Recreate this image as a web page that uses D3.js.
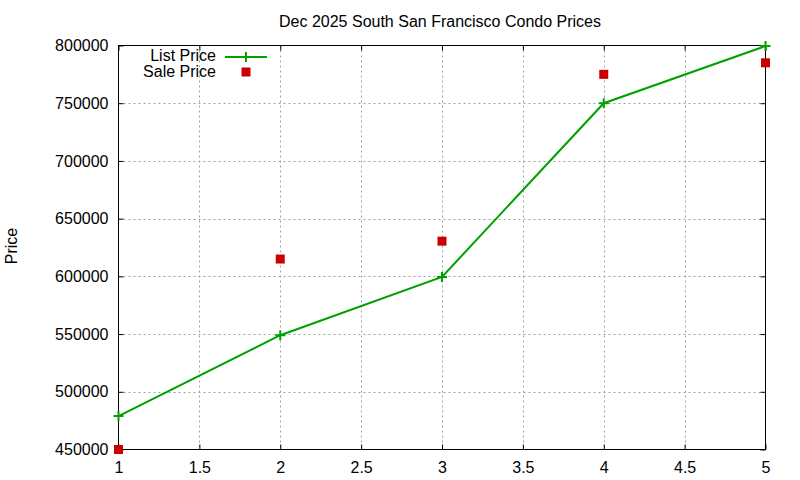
<!DOCTYPE html>
<html lang="en">
	<head>
		<meta charset="UTF-8" />
		<title>Dec 2025 South San Francisco Condo Prices</title>
		<style>
			body { margin: 0; background: #fff; }
			text { font-family: 'Liberation Sans', Arial, sans-serif; }
		</style>
	</head>
	<body>
		<svg id="svg" width="800" height="480"></svg>

		<script src="https://d3js.org/d3.v7.min.js"></script>
		<script>
			const xs = [1, 2, 3, 4, 5];
			const listPrice = [479000, 549000, 599500, 750000, 799500];
			const salePrice = [450000, 615000, 630500, 775000, 785000];
			const xTicks = [1, 1.5, 2, 2.5, 3, 3.5, 4, 4.5, 5];
			const yTicks = [450000, 500000, 550000, 600000, 650000, 700000, 750000, 800000];

			const pLeft = 118.5, pRight = 765.5, pTop = 45.5, pBottom = 449.5;
			const green = '#00a000', red = '#cc0000';

			const svg = d3.select('#svg');
			const x = d3.scaleLinear().domain([1, 5]).range([pLeft, pRight]);
			const y = d3.scaleLinear().domain([450000, 800000]).range([pBottom, pTop]);

			// grid
			const grid = svg.append('g')
				.attr('stroke', '#a0a0a0')
				.attr('stroke-dasharray', '2,3')
				.attr('stroke-width', 1);
			grid.selectAll('.gx').data(xTicks.slice(1, -1)).enter().append('line')
				.attr('x1', (d) => Math.round(x(d)) + 0.5).attr('x2', (d) => Math.round(x(d)) + 0.5)
				.attr('y1', pTop).attr('y2', pBottom);
			grid.selectAll('.gy').data(yTicks.slice(1, -1)).enter().append('line')
				.attr('y1', (d) => Math.round(y(d)) + 0.5).attr('y2', (d) => Math.round(y(d)) + 0.5)
				.attr('x1', pLeft).attr('x2', pRight);

			// axes, ticks drawn inward and mirrored
			const fmt = d3.format('d');
			const axL = d3.axisLeft(y).tickValues(yTicks).tickSizeInner(-5).tickSizeOuter(0).tickPadding(10).tickFormat(fmt);
			const axR = d3.axisRight(y).tickValues(yTicks).tickSizeInner(-5).tickSizeOuter(0).tickFormat('');
			const axB = d3.axisBottom(x).tickValues(xTicks).tickSizeInner(-5).tickSizeOuter(0).tickPadding(12).tickFormat(d3.format('~g'));
			const axT = d3.axisTop(x).tickValues(xTicks).tickSizeInner(-5).tickSizeOuter(0).tickFormat('');

			function style(g) {
				g.select('.domain').remove();
				g.selectAll('line').attr('stroke', '#000');
				g.selectAll('text').attr('fill', '#000').style('font-size', '16px');
			}
			svg.append('g').attr('transform', `translate(${pLeft},0)`).call(axL).call(style);
			svg.append('g').attr('transform', `translate(${pRight},0)`).call(axR).call(style);
			svg.append('g').attr('transform', `translate(0,${pBottom})`).call(axB).call(style);
			svg.append('g').attr('transform', `translate(0,${pTop})`).call(axT).call(style);

			svg.append('rect')
				.attr('x', pLeft).attr('y', pTop)
				.attr('width', pRight - pLeft).attr('height', pBottom - pTop)
				.attr('fill', 'none').attr('stroke', '#000').attr('stroke-width', 1);

			// list price line
			const pts = xs.map((d, i) => [x(d), y(listPrice[i])]);
			svg.append('path')
				.attr('d', d3.line()(pts))
				.attr('fill', 'none')
				.attr('stroke', green)
				.attr('stroke-width', 2);
			svg.selectAll('.lp').data(pts).enter().append('path')
				.attr('d', (d) => `M${d[0] - 5},${d[1]}h10M${d[0]},${d[1] - 5}v10`)
				.attr('stroke', green).attr('stroke-width', 2);

			// sale price points
			svg.selectAll('.sp').data(xs).enter().append('rect')
				.attr('x', (d) => x(d) - 4.5)
				.attr('y', (d, i) => y(salePrice[i]) - 4.5)
				.attr('width', 9).attr('height', 9)
				.attr('fill', red);

			// legend
			const legend = svg.append('g');
			legend.append('text').attr('x', 216).attr('y', 61).attr('text-anchor', 'end')
				.style('font-size', '16px').text('List Price');
			legend.append('line').attr('x1', 225).attr('x2', 267).attr('y1', 57).attr('y2', 57)
				.attr('stroke', green).attr('stroke-width', 2);
			legend.append('path').attr('d', 'M241,57h10M246,52v10').attr('stroke', green).attr('stroke-width', 2);
			legend.append('text').attr('x', 216).attr('y', 77).attr('text-anchor', 'end')
				.style('font-size', '16px').text('Sale Price');
			legend.append('rect').attr('x', 241.5).attr('y', 67.5).attr('width', 9).attr('height', 9).attr('fill', red);

			// title and axis label
			svg.append('text').attr('x', 440).attr('y', 27).attr('text-anchor', 'middle')
				.style('font-size', '16px').text('Dec 2025 South San Francisco Condo Prices');
			svg.append('text')
				.attr('transform', 'translate(17,246) rotate(-90)')
				.attr('text-anchor', 'middle')
				.style('font-size', '16px').text('Price');
		</script>
	</body>
</html>
